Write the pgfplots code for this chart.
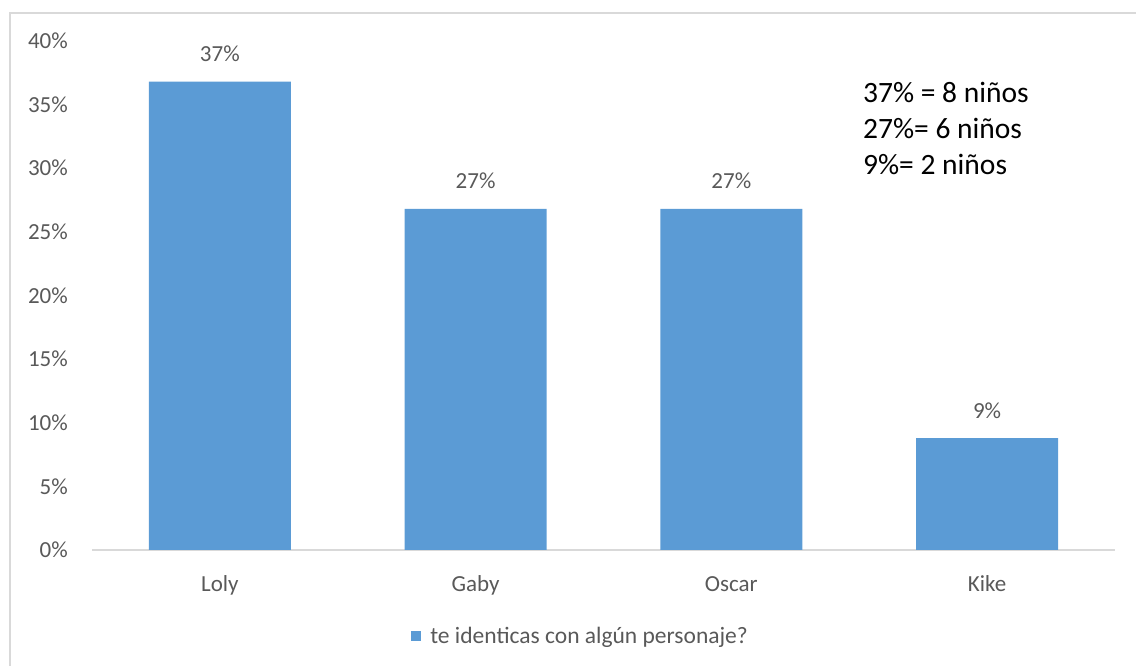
\documentclass[border=0pt]{standalone}
\usepackage{fontspec}
\setmainfont{Carlito}
\usepackage{pgfplots}
\pgfplotsset{compat=1.18}
\definecolor{barblue}{RGB}{91,155,213}
\definecolor{txtgray}{RGB}{89,89,89}
\definecolor{axgray}{RGB}{217,217,217}
\begin{document}
\begin{tikzpicture}[x=1pt,y=1pt]
\useasboundingbox (0,0) rectangle (1136,666);
\draw[axgray, line width=1.5pt] (10,0) -- (10,653) -- (1136,653);
\begin{axis}[
  at={(92pt,116pt)}, anchor=south west,
  scale only axis, width=1023pt, height=509pt,
  xmin=-0.5, xmax=3.5, ymin=0, ymax=40,
  axis lines*=left,
  y axis line style={draw=none},
  x axis line style={axgray, line width=1.5pt},
  major tick length=0pt,
  xtick={0,1,2,3},
  xticklabels={Loly,Gaby,Oscar,Kike},
  ytick={0,5,...,40},
  yticklabel={\pgfmathprintnumber{\tick}\%},
  /pgf/number format/assume math mode=true,
  tick label style={font=\fontsize{23}{27}\selectfont, color=txtgray, inner sep=0pt},
  yticklabel style={anchor=east, xshift=-24pt},
  xticklabel style={anchor=base, yshift=-42pt},
  ybar, bar width=142pt,
  point meta=explicit symbolic,
  nodes near coords,
  every node near coord/.append style={font=\fontsize{23}{27}\selectfont, color=txtgray, inner sep=0pt, anchor=base, yshift=20pt},
  legend style={at={(0.312,-0.169)}, anchor=west, draw=none, fill=none, inner sep=0pt,
    font=\fontsize{23.5}{27}\selectfont, text=txtgray,
    /tikz/every odd column/.append style={column sep=7pt}},
  legend image code/.code={\fill[barblue] (0pt,-5pt) rectangle (10pt,5pt);},
  clip=false,
]
\addplot[fill=barblue, draw=none] coordinates {(0,36.8) [37\%] (1,26.8) [27\%] (2,26.8) [27\%] (3,8.8) [9\%]};
\addlegendentry{te identicas con algún personaje?}
\node[anchor=north west, inner sep=0pt, align=left, font=\fontsize{29.5}{36}\selectfont, text=black]
  at (rel axis cs:0.7537,0.919) {37\% = 8 niños\\27\%= 6 niños\\9\%= 2 niños};
\end{axis}
\end{tikzpicture}
\end{document}
